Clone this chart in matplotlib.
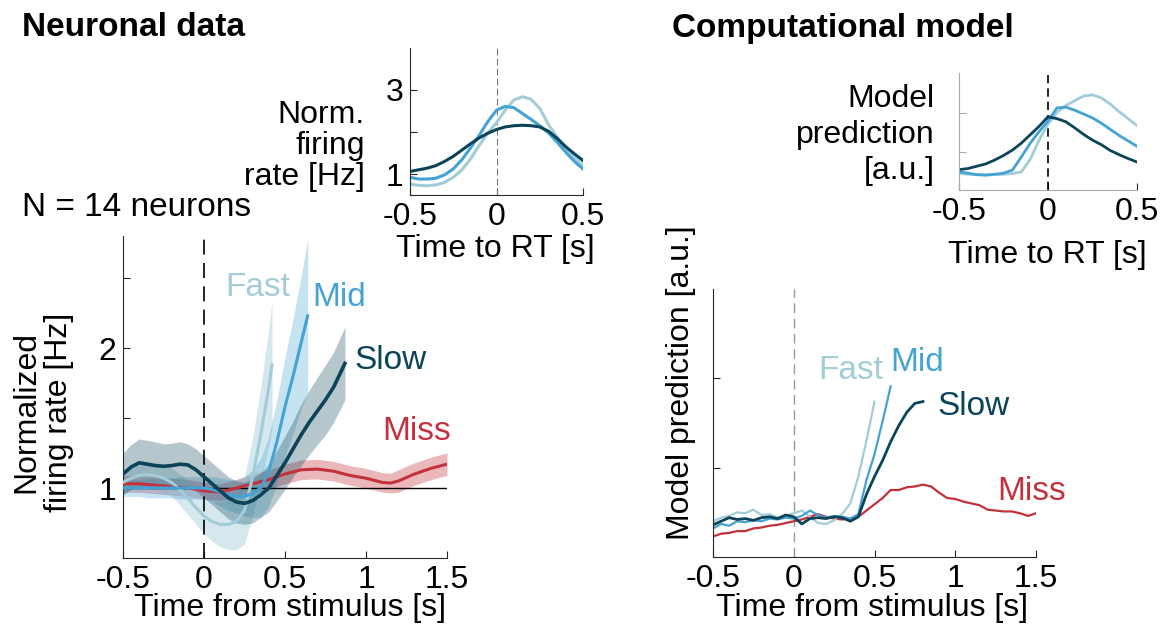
import numpy as np
import matplotlib
matplotlib.use("Agg")
import matplotlib.pyplot as plt

plt.rcParams['font.family'] = ['Liberation Sans', 'DejaVu Sans']
FS = 23
FS_LAB = 24

# ---------------- data ----------------
# Neuronal data (time from stimulus, s)
t_fast = [-0.5, -0.45, -0.4, -0.35, -0.3, -0.25, -0.2, -0.15, -0.1, -0.05, 0.0,
          0.05, 0.1, 0.15, 0.2, 0.25, 0.3, 0.35, 0.4, 0.42]
fast = [1.04, 1.07, 1.09, 1.095, 1.09, 1.07, 1.04, 0.99, 0.93, 0.86, 0.80,
        0.76, 0.74, 0.74, 0.76, 0.84, 1.08, 1.38, 1.72, 1.88]
fast_err = [0.08, 0.08, 0.09, 0.09, 0.09, 0.10, 0.10, 0.11, 0.12, 0.12, 0.13,
            0.14, 0.16, 0.18, 0.20, 0.24, 0.28, 0.34, 0.42, 0.46]

t_mid = [-0.5, -0.45, -0.4, -0.35, -0.3, -0.25, -0.2, -0.15, -0.1, -0.05, 0.0,
         0.05, 0.1, 0.15, 0.2, 0.25, 0.3, 0.35, 0.4, 0.45, 0.5, 0.55, 0.6, 0.64]
mid = [1.0, 1.0, 1.0, 1.0, 1.0, 1.0, 1.0, 1.0, 1.0, 1.0, 1.0,
       0.99, 0.97, 0.95, 0.94, 0.94, 0.96, 1.0, 1.12, 1.33, 1.58, 1.80, 2.04, 2.23]
mid_err = [0.06, 0.06, 0.06, 0.07, 0.07, 0.07, 0.07, 0.08, 0.08, 0.08, 0.08,
           0.09, 0.10, 0.11, 0.12, 0.14, 0.17, 0.21, 0.25, 0.30, 0.35, 0.41, 0.47, 0.55]

t_slow = [-0.5, -0.45, -0.4, -0.35, -0.3, -0.25, -0.2, -0.15, -0.1, -0.05, 0.0,
          0.05, 0.1, 0.15, 0.2, 0.25, 0.3, 0.35, 0.4, 0.45, 0.5, 0.55, 0.6, 0.65,
          0.7, 0.75, 0.8, 0.87]
slow = [1.10, 1.15, 1.18, 1.17, 1.16, 1.155, 1.16, 1.17, 1.165, 1.13, 1.08,
        1.03, 0.98, 0.93, 0.90, 0.89, 0.91, 0.95, 1.00, 1.09, 1.18, 1.28, 1.38, 1.47,
        1.55, 1.63, 1.72, 1.89]
slow_err = [0.15, 0.16, 0.17, 0.17, 0.17, 0.16, 0.16, 0.16, 0.15, 0.15, 0.15,
            0.15, 0.15, 0.15, 0.15, 0.15, 0.16, 0.16, 0.17, 0.18, 0.19, 0.20, 0.22, 0.23,
            0.24, 0.25, 0.25, 0.26]

t_miss = [-0.5, -0.4, -0.3, -0.2, -0.1, 0.0, 0.1, 0.2, 0.3, 0.4, 0.5, 0.6, 0.7,
          0.8, 0.9, 1.0, 1.1, 1.15, 1.2, 1.3, 1.4, 1.5]
miss = [1.03, 1.03, 1.02, 1.01, 1.0, 0.98, 0.97, 1.0, 1.03, 1.06, 1.10, 1.13, 1.135,
        1.12, 1.09, 1.07, 1.04, 1.035, 1.05, 1.10, 1.14, 1.17]
miss_err = [0.06, 0.06, 0.06, 0.06, 0.06, 0.06, 0.06, 0.06, 0.07, 0.07, 0.07, 0.07, 0.07,
            0.07, 0.07, 0.07, 0.07, 0.07, 0.08, 0.08, 0.08, 0.08]

# Neuronal data aligned to RT (inset)
t_rt = [-0.5, -0.45, -0.4, -0.35, -0.3, -0.25, -0.2, -0.15, -0.1, -0.05, 0.0,
        0.05, 0.1, 0.15, 0.2, 0.25, 0.3, 0.35, 0.4, 0.45, 0.5]
rt_slow = [1.06, 1.10, 1.14, 1.20, 1.30, 1.42, 1.57, 1.72, 1.86, 1.97, 2.06,
           2.12, 2.15, 2.16, 2.15, 2.12, 2.02, 1.85, 1.65, 1.48, 1.32]
rt_mid = [0.92, 0.88, 0.88, 0.90, 0.98, 1.12, 1.34, 1.62, 1.92, 2.25, 2.52,
          2.61, 2.58, 2.44, 2.30, 2.15, 1.98, 1.76, 1.52, 1.30, 1.12]
rt_fast = [0.76, 0.73, 0.72, 0.74, 0.80, 0.92, 1.10, 1.36, 1.68, 1.98, 2.22,
           2.52, 2.76, 2.84, 2.78, 2.56, 2.18, 1.88, 1.60, 1.38, 1.20]

# Model (time from stimulus)
t_m = [-0.5, -0.45, -0.4, -0.35, -0.3, -0.25, -0.2, -0.15, -0.1, -0.05, 0.0,
       0.05, 0.1, 0.15, 0.2, 0.25, 0.3, 0.35, 0.4, 0.45, 0.5, 0.55, 0.6, 0.65,
       0.7, 0.75, 0.8, 0.85, 0.9, 0.95, 1.0, 1.05, 1.1, 1.15, 1.2, 1.25, 1.3,
       1.35, 1.4, 1.45, 1.5]
m_fast = [0.40, 0.44, 0.46, 0.50, 0.49, 0.53, 0.47, 0.48, 0.44, 0.46, 0.49,
          0.52, 0.45, 0.38, 0.37, 0.41, 0.48, 0.60, 0.90, 1.30, 1.74]
m_mid = [0.32, 0.37, 0.35, 0.40, 0.39, 0.41, 0.40, 0.43, 0.42, 0.44, 0.43,
         0.46, 0.52, 0.47, 0.44, 0.46, 0.45, 0.43, 0.48, 0.86, 1.15, 1.52, 1.91]
m_slow = [0.36, 0.40, 0.44, 0.42, 0.43, 0.41, 0.44, 0.45, 0.43, 0.47, 0.45,
          0.37, 0.43, 0.44, 0.43, 0.45, 0.44, 0.40, 0.45, 0.70, 0.90, 1.08, 1.29, 1.47,
          1.62, 1.72, 1.74]
m_miss = [0.23, 0.26, 0.27, 0.29, 0.29, 0.32, 0.33, 0.35, 0.36, 0.38, 0.40,
          0.42, 0.45, 0.48, 0.45, 0.43, 0.42, 0.43, 0.45, 0.52, 0.59, 0.66, 0.75, 0.75,
          0.78, 0.79, 0.81, 0.79, 0.72, 0.66, 0.65, 0.62, 0.60, 0.58, 0.53, 0.52, 0.51,
          0.51, 0.49, 0.46, 0.49]

# Model aligned to RT (inset)
mrt_slow = [0.53, 0.56, 0.62, 0.68, 0.78, 0.90, 1.04, 1.22, 1.44, 1.66, 1.91,
            1.86, 1.78, 1.62, 1.45, 1.30, 1.18, 1.03, 0.92, 0.82, 0.73]
mrt_mid = [0.47, 0.44, 0.40, 0.39, 0.41, 0.44, 0.52, 0.86, 1.22, 1.52, 1.80,
           2.14, 2.16, 2.08, 1.98, 1.88, 1.74, 1.58, 1.42, 1.28, 1.14]
mrt_fast = [0.43, 0.41, 0.40, 0.39, 0.40, 0.41, 0.43, 0.47, 0.80, 1.30, 1.72,
            2.02, 2.20, 2.33, 2.45, 2.48, 2.40, 2.24, 2.04, 1.86, 1.68]

labels = ["Fast", "Mid", "Slow", "Miss"]
xticks_long = [-0.5, 0, 0.5, 1, 1.5]
xticklabels_long = ["-0.5", "0", "0.5", "1", "1.5"]
xticks_short = [-0.5, 0, 0.5]
xticklabels_short = ["-0.5", "0", "0.5"]

C_FAST = '#a3ccd9'
C_MID = '#44a3d5'
C_SLOW = '#0b4459'
C_MISS = '#c3313b'
AX_COL = '#262626'

W, H = 1169, 633
fig = plt.figure(figsize=(W / 100, H / 100), dpi=100)


def fr(x0, x1, ytop, ybot):
    return [x0 / W, 1 - ybot / H, (x1 - x0) / W, (ybot - ytop) / H]


def style(ax):
    for s in ['top', 'right']:
        ax.spines[s].set_visible(False)
    for s in ['left', 'bottom']:
        ax.spines[s].set_color(AX_COL)
        ax.spines[s].set_linewidth(0.8)
    ax.tick_params(direction='in', length=5, width=0.8, colors=AX_COL,
                   labelcolor='black', labelsize=FS, pad=5)
    ax.patch.set_alpha(0)


# ---------- left main ----------
ax1 = fig.add_axes(fr(123, 447, 236, 558))
style(ax1)
ax1.set_xlim(-0.5, 1.5)
ax1.set_ylim(0.5, 2.8)
ax1.axhline(1, color='black', lw=1.0, zorder=5)
ax1.axvline(0, color='black', lw=1.2, ls=(0, (9, 5)), zorder=6)

series = [(t_miss, miss, miss_err, C_MISS, 0.35),
          (t_fast, fast, fast_err, C_FAST, 0.45),
          (t_mid, mid, mid_err, C_MID, 0.30),
          (t_slow, slow, slow_err, C_SLOW, 0.30)]
for t, y, e, c, a in series:
    t = np.asarray(t); y = np.asarray(y); e = np.asarray(e)
    ax1.fill_between(t, y - e, y + e, color=c, alpha=a, lw=0)
for t, y, e, c, a in series:
    ax1.plot(t, y, color=c, lw=2.6 if c == C_SLOW else 2.2, zorder=7)

ax1.set_xticks(xticks_long)
ax1.set_xticklabels(xticklabels_long)
ax1.set_yticks([1, 1.5, 2, 2.5])
ax1.set_yticklabels(['1', '', '2', ''])
ax1.text(0.13, 2.43, labels[0], color=C_FAST, fontsize=FS_LAB, va='center', ha='left')
ax1.text(0.67, 2.36, labels[1], color=C_MID, fontsize=FS_LAB, va='center', ha='left')
ax1.text(0.93, 1.91, labels[2], color=C_SLOW, fontsize=FS_LAB, va='center', ha='left')
ax1.text(1.10, 1.40, labels[3], color=C_MISS, fontsize=FS_LAB, va='center', ha='left')

# ---------- left inset ----------
ax2 = fig.add_axes(fr(410, 583, 48, 195))
style(ax2)
ax2.set_xlim(-0.5, 0.5)
ax2.set_ylim(0.5, 4.0)
ax2.axvline(0, color='#777777', lw=0.8, ls=(0, (6, 3)))
ax2.plot(t_rt, rt_fast, color=C_FAST, lw=2.2)
ax2.plot(t_rt, rt_mid, color=C_MID, lw=2.2)
ax2.plot(t_rt, rt_slow, color=C_SLOW, lw=2.2)
ax2.set_xticks(xticks_short)
ax2.set_xticklabels(xticklabels_short)
ax2.set_yticks([1, 2, 3])
ax2.set_yticklabels(['1', '', '3'])

# ---------- right inset ----------
ax3 = fig.add_axes(fr(959, 1137, 73, 190))
style(ax3)
ax3.spines['left'].set_color('#aaaaaa')
ax3.spines['bottom'].set_color('#aaaaaa')
ax3.set_xlim(-0.5, 0.5)
ax3.set_ylim(0, 3.05)
ax3.axvline(0, color='black', lw=1.2, ls=(0, (5, 3)))
ax3.plot(t_rt, mrt_fast, color=C_FAST, lw=2.0)
ax3.plot(t_rt, mrt_mid, color=C_MID, lw=2.0)
ax3.plot(t_rt, mrt_slow, color=C_SLOW, lw=2.0)
ax3.set_xticks(xticks_short)
ax3.set_xticklabels(xticklabels_short)
ax3.set_yticks([1, 2])
ax3.set_yticklabels([])
ax3.tick_params(axis='y', colors='#aaaaaa')

# ---------- right main ----------
ax4 = fig.add_axes(fr(713, 1036, 289, 557))
style(ax4)
ax4.set_xlim(-0.5, 1.5)
ax4.set_ylim(0, 3.0)
ax4.axvline(0, color='#999999', lw=1.0, ls=(0, (7, 4)))
ax4.plot(t_m[:len(m_miss)], m_miss, color=C_MISS, lw=1.6)
ax4.plot(t_m[:len(m_fast)], m_fast, color=C_FAST, lw=1.6)
ax4.plot(t_m[:len(m_mid)], m_mid, color=C_MID, lw=1.6)
ax4.plot(t_m[:len(m_slow)], m_slow, color=C_SLOW, lw=2.0)
ax4.set_xticks(xticks_long)
ax4.set_xticklabels(xticklabels_long)
ax4.set_yticks([1, 2])
ax4.set_yticklabels([])
ax4.text(0.15, 2.09, labels[0], color=C_FAST, fontsize=FS_LAB, va='center', ha='left')
ax4.text(0.60, 2.18, labels[1], color=C_MID, fontsize=FS_LAB, va='center', ha='left')
ax4.text(0.89, 1.68, labels[2], color=C_SLOW, fontsize=FS_LAB, va='center', ha='left')
ax4.text(1.26, 0.73, labels[3], color=C_MISS, fontsize=FS_LAB, va='center', ha='left')

# ---------- texts ----------
fig.text(22 / W, 1 - 28 / H, "Neuronal data", fontsize=24, fontweight='bold',
         ha='left', va='center')
fig.text(672 / W, 1 - 28 / H, "Computational model", fontsize=24, fontweight='bold',
         ha='left', va='center')
fig.text(22 / W, 1 - 208 / H, "N = 14 neurons", fontsize=FS_LAB, ha='left', va='center')
fig.text(43 / W, 1 - 412 / H, "Normalized\nfiring rate [Hz]", fontsize=FS,
         rotation=90, ha='center', va='center', multialignment='center',
         linespacing=1.1)
fig.text(290 / W, 1 - 608 / H, "Time from stimulus [s]", fontsize=FS,
         ha='center', va='center')
fig.text(365 / W, 1 - 146 / H, "Norm.\nfiring\nrate [Hz]", fontsize=FS,
         ha='right', va='center', multialignment='right', linespacing=1.05)
fig.text(495 / W, 1 - 249 / H, "Time to RT [s]", fontsize=FS,
         ha='center', va='center')
fig.text(935 / W, 1 - 135 / H, "Model\nprediction\n[a.u.]", fontsize=FS,
         ha='right', va='center', multialignment='right', linespacing=1.25)
fig.text(1047 / W, 1 - 255 / H, "Time to RT [s]", fontsize=FS,
         ha='center', va='center')
fig.text(681 / W, 1 - 383 / H, "Model prediction [a.u.]", fontsize=FS,
         rotation=90, ha='center', va='center')
fig.text(872 / W, 1 - 608 / H, "Time from stimulus [s]", fontsize=FS,
         ha='center', va='center')

fig.savefig("out.png", dpi=100)
